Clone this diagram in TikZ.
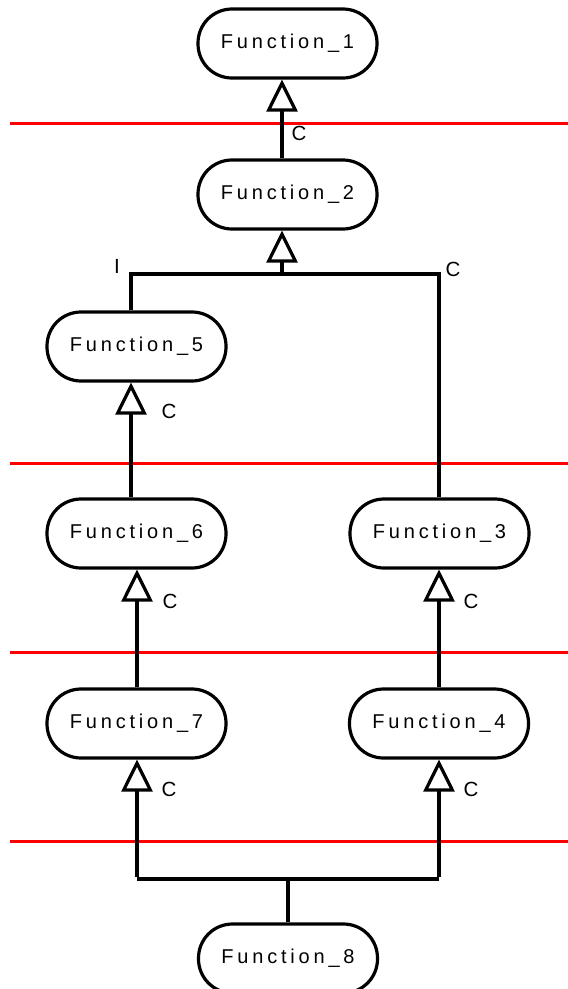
\documentclass[tikz,border=0pt]{standalone}
\usepackage{fontspec}
\setmainfont{Liberation Sans}
\newfontfamily\spacedfont[LetterSpace=19]{Liberation Sans}
\usetikzlibrary{arrows.meta}
\begin{document}
\begin{tikzpicture}[x=1pt,y=-1pt,
  fn/.style={draw, line width=3.2pt, rounded corners=34pt, minimum width=179pt, minimum height=69pt, inner sep=0pt, fill=white,
    font=\spacedfont\fontsize{20}{24}\selectfont},
  conn/.style={line width=3.2pt},
  inh/.style={conn, -{Triangle[open, fill=white, length=32pt, width=31pt]}},
  lvl/.style={red, line width=3pt},
  lab/.style={font=\fontsize{20.5}{24}\selectfont, inner sep=0pt}]
\useasboundingbox (0,0) rectangle (568,989);
% level lines
\draw[lvl] (10,123) -- (568,123);
\draw[lvl] (10,463) -- (568,463);
\draw[lvl] (10,652) -- (568,652);
\draw[lvl] (10,841) -- (568,841);
% nodes
\node[fn] (f1) at (287.5,43.5) {Function\_1};
\node[fn] (f2) at (287.5,194.5) {Function\_2};
\node[fn] (f5) at (136.5,346.5) {Function\_5};
\node[fn] (f6) at (136.5,533.5) {Function\_6};
\node[fn] (f3) at (439.5,533.5) {Function\_3};
\node[fn] (f7) at (136.5,723.5) {Function\_7};
\node[fn] (f4) at (439,723.5) {Function\_4};
\node[fn] (f8) at (288,958.5) {Function\_8};
% junction coordinates
\coordinate (j2) at (282,274);
\coordinate (j2l) at (131,274);
\coordinate (j2r) at (439,274);
\coordinate (j8) at (288,879);
\coordinate (j8l) at (137,879);
\coordinate (j8r) at (439,879);
% connectors
\draw[inh] ([xshift=-5.5pt]f2.north) -- ([xshift=-5.5pt]f1.south);
\draw[conn] (j2l |- f5.north) -- (j2l) -- (j2r) -- (j2r |- f3.north);
\draw[inh] (j2) -- ([xshift=-5.5pt]f2.south);
\draw[inh] (j2l |- f6.north) -- (j2l |- f5.south);
\draw[inh] ([xshift=0.5pt]f7.north) -- ([xshift=0.5pt]f6.south);
\draw[inh] (f4.north) -- (f3.south -| f4.north);
\draw[conn] (f8.north) -- (j8);
\draw[conn] (j8l) -- (j8r);
\draw[inh] ([yshift=1.6pt]j8l) -- ([xshift=0.5pt]f7.south);
\draw[inh] ([yshift=1.6pt]j8r) -- (f4.south);
% labels
\node[lab] (c1) at (299,133) {C};
\node[lab] (c2) at (453,269) {C};
\node[lab] (i2) at (117,266) {I};
\node[lab] (c5) at (169,411) {C};
\node[lab] (c6) at (170,601) {C};
\node[lab] (c3) at (471,601) {C};
\node[lab] (c7) at (169,789) {C};
\node[lab] (c4) at (471,789) {C};
\end{tikzpicture}
\end{document}
